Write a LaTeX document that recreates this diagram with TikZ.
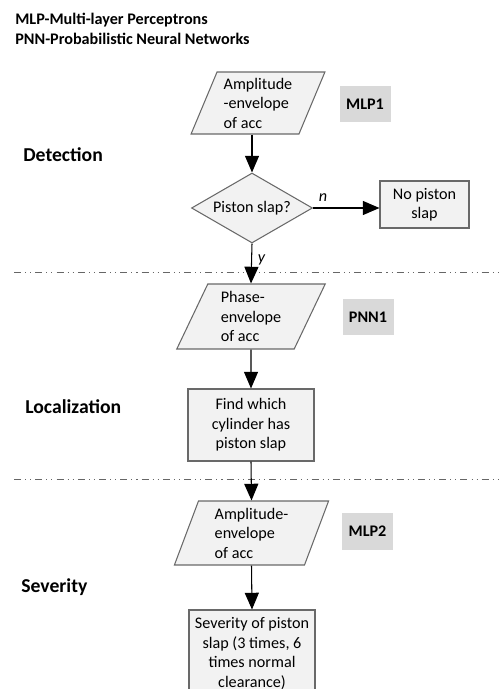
\documentclass[tikz,border=0pt]{standalone}
\usepackage{fontspec}
\setmainfont{Carlito}
\usetikzlibrary{shapes.geometric, arrows.meta, positioning}
\definecolor{shapefill}{RGB}{242,242,242}
\definecolor{shapeline}{RGB}{105,105,105}
\definecolor{tagfill}{RGB}{217,217,217}

\begin{document}
\begin{tikzpicture}[
  x=0.02cm, y=-0.02cm,
  font=\fontsize{9.2}{11.1}\selectfont,
  base/.style={draw=shapeline, fill=shapefill, line width=0.6pt, inner sep=1pt},
  inbox/.style={base, trapezium, trapezium left angle=67, trapezium right angle=113, trapezium stretches=true, align=left},
  procbox/.style={base, rectangle, align=center, minimum width=2.52cm},
  decbox/.style={base, diamond, aspect=1.7, minimum width=2.42cm, minimum height=1.4cm, inner sep=0pt},
  tag/.style={fill=tagfill, minimum width=1.02cm, minimum height=0.74cm, font=\fontsize{9.2}{11.1}\selectfont\bfseries},
  note/.style={anchor=west, inner sep=0pt, font=\fontsize{9.2}{11.1}\selectfont\bfseries},
  stage/.style={anchor=west, inner sep=0pt, font=\fontsize{11.2}{13}\selectfont\bfseries},
  arr/.style={-{Triangle[length=9.5pt, width=8pt]}, line width=0.6pt},
  divider/.style={draw=black!60, line width=0.5pt, dash pattern=on 4pt off 2.3pt on 0.6pt off 2.3pt on 0.6pt off 2.3pt}
]
\useasboundingbox (0,0) rectangle (500,689);

% legend
\node[note] (mlp) at (15,20) {MLP-Multi-layer Perceptrons};
\node[note] (pnn) at (15,39) {PNN-Probabilistic Neural Networks};

% stages
\node[stage] (det) at (23,155) {Detection};
\node[stage] (loc) at (25,407) {Localization};
\node[stage] (sev) at (21,587) {Severity};

\draw[divider] (14,272) -- (500,272);
\draw[divider] (14,479) -- (500,479);

% detection
\node[inbox, minimum width=2.68cm, minimum height=1.24cm] (amp1) at (258,103) {Amplitude\\-envelope\\of acc};
\node[tag] (mlp1) at (365,104) {MLP1};
\node[decbox] (slap) at (252,208) {Piston slap?};
\node[procbox, minimum width=1.78cm, minimum height=0.94cm] (nopist) at (424.5,204.5) {No piston\\slap};

% localization
\node[inbox, minimum width=2.98cm, minimum height=1.3cm] (phase) at (251,316.5) {Phase-\\envelope\\of acc};
\node[tag] (pnn1) at (368,317) {PNN1};
\node[procbox, minimum height=1.44cm] (find) at (251,425) {Find which\\cylinder has\\piston slap};

% severity
\node[inbox, trapezium left angle=72, trapezium right angle=108, minimum width=3.1cm, minimum height=1.28cm] (amp2) at (251.5,533) {Amplitude-\\envelope\\of acc};
\node[tag] (mlp2) at (367.5,531) {MLP2};
\node[procbox, minimum height=1.74cm] (degree) at (252,653.5) {Severity of piston\\slap (3 times, 6\\times normal\\clearance)};

\draw[arr] (slap.north |- amp1.south) -- (slap.north);
\draw[arr] (slap.east) -- node[above, pos=0.15]{\textit{n}} (slap.east -| nopist.west);
\draw[arr] (slap.south) -- node[right, pos=0.41]{\textit{y}} (phase.north);
\draw[arr] (phase.south) -- (find.north);
\draw[arr] (find.south) -- (amp2.north);
\draw[arr] (amp2.south) -- (degree.north);
\end{tikzpicture}
\end{document}
